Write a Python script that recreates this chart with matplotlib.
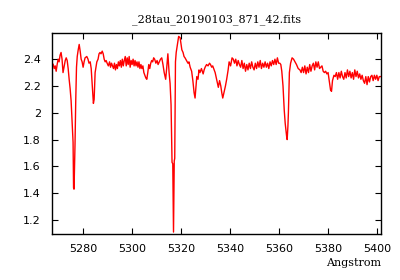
import matplotlib
matplotlib.use("Agg")
import matplotlib.pyplot as plt
from matplotlib.ticker import FuncFormatter

title = "_28tau_20190103_871_42.fits"
xlabel = "Angstrom"

# spectrum (wavelength in Angstrom, flux)
wave = [
    5267.4, 5267.8, 5268.2, 5268.6, 5269.0, 5269.4, 5269.8, 5270.2, 5270.6, 5271.0,
    5271.4, 5271.8, 5272.2, 5272.7, 5273.1, 5273.5, 5273.9, 5274.3, 5274.7, 5275.1,
    5275.5, 5275.9, 5276.1, 5276.3, 5276.7, 5277.0, 5277.3, 5277.6, 5278.0, 5278.4,
    5278.8, 5279.2, 5279.6, 5280.0, 5280.4, 5280.8, 5281.5, 5282.0, 5282.4, 5282.9,
    5283.3, 5283.7, 5284.0, 5284.2, 5284.5, 5284.9, 5285.6, 5286.1, 5286.5, 5286.9,
    5287.3, 5287.8, 5288.2, 5288.6, 5289.0, 5289.4, 5289.8, 5290.3, 5290.8, 5291.2,
    5291.6, 5292.0, 5292.4, 5292.8, 5293.2, 5293.6, 5294.0, 5294.4, 5294.8, 5295.2,
    5295.6, 5296.0, 5296.4, 5296.8, 5297.2, 5297.6, 5298.0, 5298.4, 5298.8, 5299.2,
    5299.6, 5300.0, 5300.4, 5300.8, 5301.2, 5301.6, 5302.0, 5302.4, 5302.8, 5303.2,
    5303.6, 5304.0, 5304.4, 5304.8, 5305.2, 5305.6, 5306.0, 5306.4, 5306.8, 5307.2,
    5307.6, 5308.0, 5308.4, 5308.8, 5309.2, 5309.7, 5310.2, 5310.6, 5311.1, 5311.6,
    5312.1, 5312.6, 5313.1, 5313.7, 5314.1, 5314.6, 5315.1, 5315.5, 5315.9, 5316.3,
    5316.6, 5316.9, 5317.2, 5317.4, 5317.7, 5318.0, 5318.4, 5319.0, 5319.6, 5320.3,
    5320.8, 5321.2, 5321.6, 5322.2, 5322.8, 5323.2, 5323.7, 5324.3, 5324.8, 5325.3,
    5325.7, 5326.1, 5326.4, 5326.9, 5327.3, 5327.7, 5328.3, 5329.0, 5329.4, 5329.8,
    5330.4, 5331.0, 5331.6, 5332.0, 5332.5, 5332.9, 5333.3, 5333.9, 5334.5, 5335.2,
    5335.7, 5336.2, 5336.6, 5337.0, 5337.5, 5338.1, 5338.6, 5339.2, 5339.6, 5340.2,
    5340.8, 5341.3, 5341.8, 5342.3, 5342.8, 5343.3, 5343.8, 5344.3, 5344.8, 5345.3,
    5345.8, 5346.3, 5346.8, 5347.3, 5347.8, 5348.3, 5348.8, 5349.3, 5349.8, 5350.3,
    5350.8, 5351.3, 5351.8, 5352.3, 5352.8, 5353.3, 5353.8, 5354.3, 5354.8, 5355.3,
    5355.8, 5356.3, 5356.8, 5357.3, 5357.8, 5358.3, 5358.8, 5359.3, 5359.8, 5360.3,
    5360.7, 5361.1, 5361.6, 5362.1, 5362.5, 5362.8, 5363.1, 5363.3, 5363.6, 5363.8,
    5364.0, 5364.2, 5364.7, 5365.3, 5365.9, 5366.5, 5367.1, 5367.8, 5368.5, 5369.0,
    5369.5, 5370.0, 5370.5, 5371.0, 5371.5, 5372.0, 5372.5, 5373.0, 5373.5, 5374.0,
    5374.5, 5375.0, 5375.5, 5376.0, 5376.5, 5377.0, 5377.5, 5378.0, 5378.5, 5379.0,
    5379.5, 5380.0, 5380.4, 5380.8, 5381.0, 5381.4, 5381.8, 5382.4, 5382.9, 5383.4,
    5383.9, 5384.4, 5384.9, 5385.4, 5385.9, 5386.4, 5386.9, 5387.4, 5387.9, 5388.4,
    5388.9, 5389.4, 5389.9, 5390.4, 5390.9, 5391.4, 5391.9, 5392.4, 5392.9, 5393.4,
    5393.9, 5394.4, 5394.9, 5395.4, 5395.9, 5396.4, 5396.9, 5397.4, 5397.9, 5398.4,
    5398.9, 5399.4, 5399.9, 5400.4, 5400.9, 5401.5,
]
flux = [
    2.37, 2.36, 2.33, 2.35, 2.31, 2.36, 2.40, 2.38, 2.43, 2.45,
    2.40, 2.30, 2.34, 2.39, 2.41, 2.39, 2.33, 2.25, 2.18, 2.09,
    1.93, 1.78, 1.44, 1.43, 1.77, 2.10, 2.34, 2.42, 2.47, 2.51,
    2.46, 2.40, 2.38, 2.34, 2.38, 2.41, 2.42, 2.40, 2.37, 2.38,
    2.33, 2.22, 2.15, 2.07, 2.10, 2.30, 2.38, 2.40, 2.44, 2.45,
    2.44, 2.46, 2.44, 2.40, 2.38, 2.39, 2.37, 2.35, 2.38, 2.34,
    2.37, 2.35, 2.33, 2.37, 2.32, 2.36, 2.33, 2.38, 2.35, 2.39,
    2.34, 2.40, 2.35, 2.39, 2.42, 2.35, 2.41, 2.36, 2.42, 2.34,
    2.39, 2.36, 2.40, 2.35, 2.39, 2.35, 2.38, 2.34, 2.38, 2.33,
    2.36, 2.33, 2.35, 2.30, 2.28, 2.26, 2.25, 2.30, 2.36, 2.33,
    2.37, 2.39, 2.38, 2.41, 2.40, 2.37, 2.39, 2.36, 2.38, 2.40,
    2.41, 2.36, 2.30, 2.25, 2.33, 2.44, 2.30, 2.22, 2.06, 1.63,
    1.62, 1.11, 1.64, 1.66, 2.38, 2.45, 2.50, 2.57, 2.56, 2.47,
    2.45, 2.42, 2.41, 2.39, 2.37, 2.38, 2.34, 2.31, 2.24, 2.15,
    2.11, 2.20, 2.27, 2.25, 2.32, 2.30, 2.33, 2.29, 2.32, 2.34,
    2.36, 2.35, 2.37, 2.36, 2.34, 2.35, 2.33, 2.30, 2.25, 2.19,
    2.24, 2.20, 2.15, 2.11, 2.15, 2.20, 2.25, 2.32, 2.38, 2.35,
    2.41, 2.40, 2.37, 2.40, 2.35, 2.39, 2.36, 2.34, 2.39, 2.33,
    2.37, 2.31, 2.36, 2.32, 2.37, 2.33, 2.38, 2.34, 2.32, 2.37,
    2.33, 2.38, 2.34, 2.39, 2.33, 2.37, 2.34, 2.38, 2.34, 2.37,
    2.33, 2.38, 2.35, 2.39, 2.36, 2.40, 2.36, 2.41, 2.37, 2.37,
    2.36, 2.31, 2.20, 2.02, 1.92, 1.87, 1.82, 1.80, 1.90, 2.00,
    2.15, 2.30, 2.37, 2.41, 2.40, 2.38, 2.36, 2.33, 2.32, 2.30,
    2.34, 2.30, 2.35, 2.29, 2.34, 2.30, 2.36, 2.31, 2.35, 2.37,
    2.32, 2.38, 2.34, 2.38, 2.33, 2.34, 2.35, 2.31, 2.30, 2.31,
    2.29, 2.30, 2.25, 2.20, 2.17, 2.16, 2.24, 2.28, 2.27, 2.30,
    2.25, 2.30, 2.26, 2.31, 2.27, 2.25, 2.30, 2.26, 2.32, 2.27,
    2.31, 2.26, 2.30, 2.25, 2.32, 2.27, 2.31, 2.26, 2.29, 2.25,
    2.28, 2.24, 2.22, 2.27, 2.21, 2.27, 2.23, 2.27, 2.28, 2.24,
    2.28, 2.25, 2.28, 2.24, 2.27, 2.27,
]

xticks = [5280, 5300, 5320, 5340, 5360, 5380, 5400]
yticks = [1.2, 1.4, 1.6, 1.8, 2.0, 2.2, 2.4]

fig = plt.figure(figsize=(4, 2.8), dpi=100)
ax = fig.add_axes([0.13, 0.164, 0.8225, 0.718])
ax.plot(wave, flux, color="red", lw=1.0)

ax.set_xlim(5267.3, 5401.6)
ax.set_ylim(1.095, 2.595)
ax.set_xticks(xticks)
ax.set_yticks(yticks)
ax.yaxis.set_major_formatter(FuncFormatter(lambda v, p: "%g" % round(v, 2)))
ax.tick_params(direction="in", top=True, right=True, length=4, width=0.8,
               labelsize=8, colors="black")
ax.tick_params(axis="x", pad=7)
ax.tick_params(axis="y", pad=8)
for s in ax.spines.values():
    s.set_linewidth(1.0)

ax.set_title(title, fontsize=8, family="DejaVu Serif", pad=8)
ax.set_xlabel(xlabel, fontsize=8, family="DejaVu Serif", labelpad=1)
ax.xaxis.set_label_coords(1.0, -0.12)
ax.xaxis.label.set_horizontalalignment("right")

fig.savefig("out.png", dpi=100)
